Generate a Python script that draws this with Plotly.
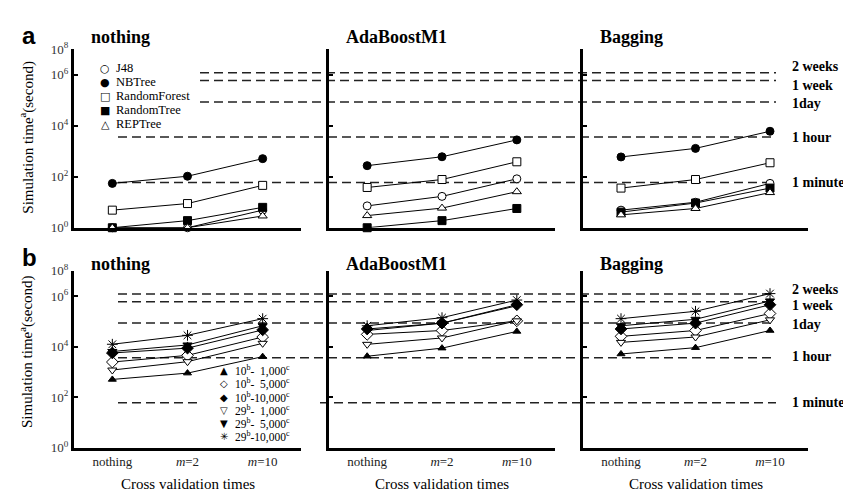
import numpy as np
import plotly.graph_objects as go

W, H = 851, 491

# ---------------- data ----------------
cv_times = ["nothing", "m=2", "m=10"]
cv_tick_text = ["nothing", "<i>m</i>=2", "<i>m</i>=10"]
ensembles = ["nothing", "AdaBoostM1", "Bagging"]

# panel a: simulation time (s) per classifier, rows = ensemble (nothing, AdaBoostM1, Bagging)
classifiers = ["J48", "NBTree", "RandomForest", "RandomTree", "REPTree"]
j48 = [[1, 1, 4.9], [7.2, 17, 83], [4.9, 10, 55]]
nbtree = [[55, 105, 515], [273, 610, 2800], [600, 1300, 6100]]
random_forest = [[4.9, 8.9, 46], [38, 78, 387], [36, 78, 355]]
random_tree = [[1, 1.9, 6.3], [1, 1.9, 5.7], [4.1, 9.3, 36]]
rep_tree = [[1, 1, 2.9], [3.0, 5.9, 26], [3.2, 5.7, 24]]

# panel b: simulation time (s) per (attributes, instances) setting
settings = ["10-1,000", "10-5,000", "10-10,000", "29-1,000", "29-5,000", "29-10,000"]
s10_1000 = [[500, 890, 4000], [4150, 8700, 40000], [5100, 9100, 43500]]
s10_5000 = [[2450, 4500, 24000], [30500, 43500, 105000], [25500, 43500, 205000]]
s10_10000 = [[5600, 8700, 46000], [50000, 85000, 455000], [50000, 85000, 455000]]
s29_1000 = [[1180, 2530, 13500], [12300, 22000, 105000], [14700, 24000, 115000]]
s29_5000 = [[6400, 11600, 67000], [43500, 85000, 415000], [67000, 121000, 645000]]
s29_10000 = [[12400, 28000, 128000], [67000, 140000, 700000], [128000, 250000, 1260000]]

# reference time lines (seconds)
threshold_labels = ["1 minute", "1 hour", "1day", "1 week", "2 weeks"]
threshold_secs = [60, 3600, 86400, 604800, 1209600]

y_tickvals = [1, 1e2, 1e4, 1e6, 1e7]
y_ticktext = ["10<sup>0</sup>", "10<sup>2</sup>", "10<sup>4</sup>", "10<sup>6</sup>", "10<sup>8</sup>"]

# ---------------- styles ----------------
SERIF = "Liberation Serif"
a_series = [j48, nbtree, random_forest, random_tree, rep_tree]
a_styles = [
    dict(symbol="circle", color="white", size=8),
    dict(symbol="circle", color="black", size=8),
    dict(symbol="square", color="white", size=8),
    dict(symbol="square", color="black", size=8),
    dict(symbol="triangle-up", color="white", size=8),
]
a_glyphs = ["○", "●", "□", "■", "△"]
b_series = [s10_1000, s10_5000, s10_10000, s29_1000, s29_5000, s29_10000]
b_styles = [
    dict(symbol="triangle-up", color="black", size=7),
    dict(symbol="diamond", color="white", size=9),
    dict(symbol="diamond", color="black", size=9),
    dict(symbol="triangle-down", color="white", size=8),
    dict(symbol="triangle-down", color="black", size=8),
    dict(symbol="asterisk-open", color="black", size=9),
]
b_glyphs = ["▲", "◇", "◆", "▽", "▼", "✳"]
b_legend_text = [
    "10<sup>b</sup>-\u00a0\u00a01,000<sup>c</sup>",
    "10<sup>b</sup>-\u00a0\u00a05,000<sup>c</sup>",
    "10<sup>b</sup>-10,000<sup>c</sup>",
    "29<sup>b</sup>-\u00a0\u00a01,000<sup>c</sup>",
    "29<sup>b</sup>-\u00a0\u00a05,000<sup>c</sup>",
    "29<sup>b</sup>-10,000<sup>c</sup>",
]

# layout geometry (pixels)
col_px = [(66, 293), (321, 547), (575, 800)]
row_px = [(33.5, 218.3), (263, 446)]  # top, bottom of plotting area

def px_x(x):
    return x / W

def px_y(y):
    return 1 - y / H

fig = go.Figure()

def add_series(row, series_list, styles, names):
    for c in range(3):
        k = row * 3 + c + 1
        for s, st, nm in zip(series_list, styles, names):
            mk = dict(symbol=st["symbol"], size=st["size"], color=st["color"],
                      line=dict(color="black", width=1))
            fig.add_trace(go.Scatter(
                x=cv_times, y=s[c], mode="lines+markers", name=nm,
                line=dict(color="black", width=1), marker=mk,
                xaxis=f"x{k}", yaxis=f"y{k}", showlegend=False, cliponaxis=False,
            ))

add_series(0, a_series, a_styles, classifiers)
add_series(1, b_series, b_styles, settings)

layout = dict(
    width=W, height=H, margin=dict(l=0, r=0, t=0, b=0),
    paper_bgcolor="white", plot_bgcolor="white",
    font=dict(family=SERIF, color="black", size=13),
    showlegend=False,
)
for r in range(2):
    for c in range(3):
        k = r * 3 + c + 1
        sfx = "" if k == 1 else str(k)
        layout[f"xaxis{sfx}"] = dict(
            domain=[px_x(col_px[c][0]), px_x(col_px[c][1])],
            anchor=f"y{k}", type="category", range=[-0.51, 2.51],
            showline=True, linewidth=3, linecolor="black", showgrid=False,
            zeroline=False, ticks="", tickvals=cv_times, ticktext=cv_tick_text,
            showticklabels=(r == 1), tickfont=dict(family=SERIF, size=13, color="#222"),
        )
        layout[f"yaxis{sfx}"] = dict(
            domain=[px_y(row_px[r][1]), px_y(row_px[r][0])],
            anchor=f"x{k}", type="log", range=[0, 7],
            showline=True, linewidth=3, linecolor="black", showgrid=False,
            zeroline=False, ticks="inside", ticklen=4, tickwidth=1.5, tickcolor="black",
            tickvals=y_tickvals, ticktext=y_ticktext,
            showticklabels=(c == 0), tickfont=dict(family=SERIF, size=13, color="#333"),
        )
fig.update_layout(**layout)

# ---------- dashed reference lines ----------
DASH = "9px,5px"
END = 768
row_segments = [
    {"1 minute": [(110, END)], "1 hour": [(110, END)], "1day": [(192, END)],
     "1 week": [(192, END)], "2 weeks": [(192, END)]},
    {"1 minute": [(110, 193), (312, END)], "1 hour": [(110, END)], "1day": [(110, END)],
     "1 week": [(110, END)], "2 weeks": [(110, END)]},
]
label_shift = [
    {"1 minute": 0, "1 hour": 0, "1day": -2, "1 week": -5, "2 weeks": 6},
    {"1 minute": 0, "1 hour": 1, "1day": -2, "1 week": -4, "2 weeks": 5},
]
for r in range(2):
    yref = "y" if r == 0 else "y4"
    yref_lab = f"y{r * 3 + 3}"
    for lab, sec in zip(threshold_labels, threshold_secs):
        for x0, x1 in row_segments[r][lab]:
            fig.add_shape(type="line", xref="paper", yref=yref,
                          x0=px_x(x0), x1=px_x(x1), y0=sec, y1=sec,
                          line=dict(color="#222", width=1.5, dash=DASH), layer="below")
        fig.add_annotation(x=px_x(782), y=np.log10(sec), xref="paper", yref=yref_lab,
                           text=f"<b>{lab}</b>", showarrow=False, xanchor="left",
                           yanchor="middle", yshift=label_shift[r][lab],
                           font=dict(family=SERIF, size=14, color="black"))

# ---------- panel titles, letters ----------
title_y = [21, 256]
for r in range(2):
    for c in range(3):
        fig.add_annotation(x=px_x(col_px[c][0] + 15), y=px_y(title_y[r]), xref="paper", yref="paper",
                           text=f"<b>{ensembles[c]}</b>", showarrow=False,
                           xanchor="left", yanchor="middle",
                           font=dict(family=SERIF, size=18, color="black"))
for lt, yy in zip(["a", "b"], [19, 249]):
    fig.add_annotation(x=px_x(21), y=px_y(yy), xref="paper", yref="paper",
                       text=f"<b>{lt}</b>", showarrow=False, xanchor="center", yanchor="middle",
                       font=dict(family="Liberation Sans", size=24, color="black"))

# y-axis titles
for yy in [125, 347]:
    fig.add_annotation(x=px_x(19), y=px_y(yy), xref="paper", yref="paper",
                       text="Simulation time<sup>a</sup>(second)", showarrow=False,
                       textangle=-90, xanchor="center", yanchor="middle",
                       font=dict(family=SERIF, size=15, color="black"))
# x-axis titles
for c in range(3):
    fig.add_annotation(x=px_x((col_px[c][0] + col_px[c][1]) / 2), y=px_y(484), xref="paper", yref="paper",
                       text="Cross validation times", showarrow=False,
                       xanchor="center", yanchor="middle",
                       font=dict(family=SERIF, size=15, color="black"))

# ---------- legends (text) ----------
a_leg_y = [53, 67.5, 82, 96.5, 111]
for g, nm, yy in zip(a_glyphs, classifiers, a_leg_y):
    fig.add_annotation(x=px_x(97), y=px_y(yy), xref="paper", yref="paper", text=g,
                       showarrow=False, xanchor="center", yanchor="middle",
                       font=dict(family="DejaVu Sans", size=11, color="black"))
    fig.add_annotation(x=px_x(106), y=px_y(yy), xref="paper", yref="paper", text=nm,
                       showarrow=False, xanchor="left", yanchor="middle",
                       font=dict(family=SERIF, size=12.5, color="black"))
b_leg_y = [366.5, 380.1, 393.7, 407.3, 420.9, 434.5]
for g, nm, yy in zip(b_glyphs, b_legend_text, b_leg_y):
    fig.add_annotation(x=px_x(216), y=px_y(yy), xref="paper", yref="paper", text=g,
                       showarrow=False, xanchor="center", yanchor="middle",
                       font=dict(family="DejaVu Sans", size=10, color="black"))
    fig.add_annotation(x=px_x(225), y=px_y(yy), xref="paper", yref="paper", text=nm,
                       showarrow=False, xanchor="left", yanchor="middle",
                       font=dict(family=SERIF, size=11.5, color="black"))

fig.write_html("out.html")
